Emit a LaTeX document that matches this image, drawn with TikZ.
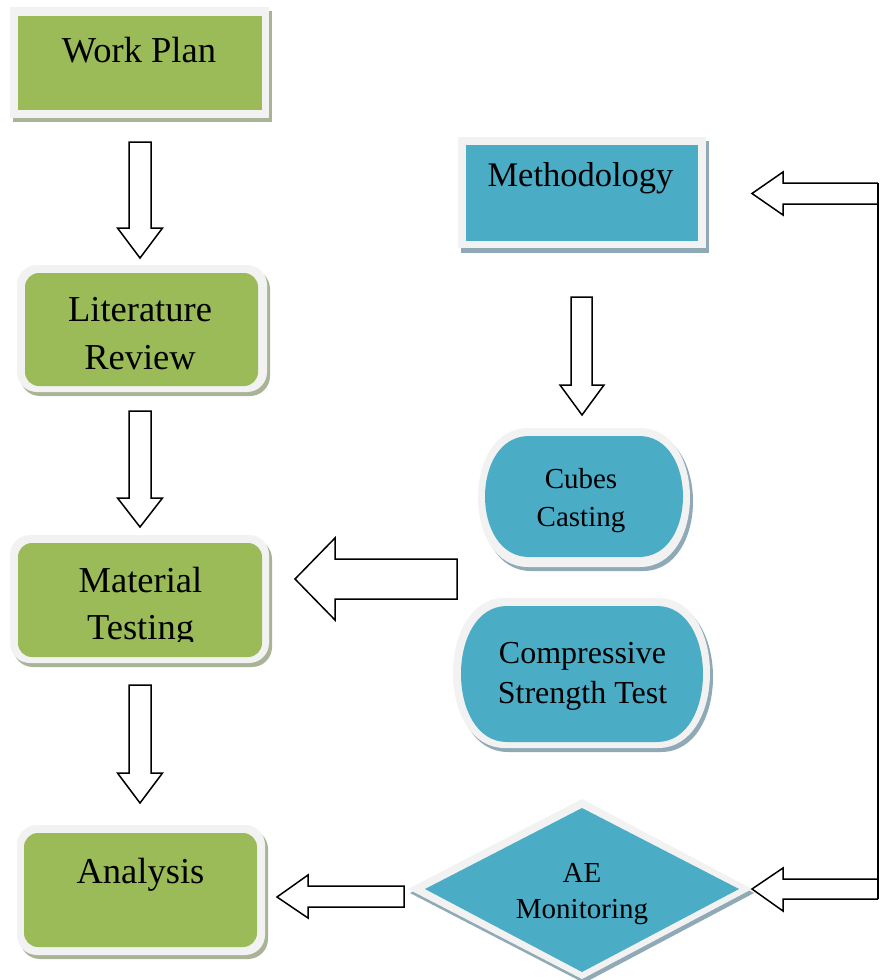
\documentclass[tikz,border=0pt]{standalone}
\usepackage{fontspec}
\setmainfont{Liberation Serif}
\definecolor{olivegrn}{HTML}{9BBB59}
\definecolor{aqua}{HTML}{4BACC6}
\definecolor{framegray}{HTML}{F2F2F2}
\definecolor{shgrn}{HTML}{A9B497}
\definecolor{shaqua}{HTML}{8FAAB6}
% capsule: style, x1, y1, x2, y2, rx
\newcommand{\capfill}[6]{\fill[#1] ({#2+#6},#3) -- ({#4-#6},#3) .. controls ({#4+#6/3},#3) and ({#4+#6/3},#5) .. ({#4-#6},#5) -- ({#2+#6},#5) .. controls ({#2-#6/3},#5) and ({#2-#6/3},#3) .. ({#2+#6},#3) -- cycle;}
\tikzset{
  lbl/.style={inner sep=0pt, anchor=base, text=black},
  big/.style={font=\fontsize{36.5}{40}\selectfont},
  mid/.style={font=\fontsize{32}{36}\selectfont},
  small/.style={font=\fontsize{29}{33}\selectfont},
  blockarrow/.style={draw=black, fill=white, line width=1.5pt, line join=miter},
}
\begin{document}
\begin{tikzpicture}[x=1pt,y=-1pt]
\useasboundingbox (0,0) rectangle (879,980);
\fill[white] (0,0) rectangle (879,980);

% ---- Work Plan (square box)
\fill[shgrn] (13,11) rectangle (272,122);
\fill[framegray] (10,7) rectangle (269,118);
\fill[olivegrn] (18,16) rectangle (262,110);
\node[lbl,big] (wp) at (139,62) {Work Plan};

% ---- Methodology (square box)
\fill[shaqua] (461,141) rectangle (709,253);
\fill[framegray] (458,137) rectangle (706,248);
\fill[aqua] (466,145) rectangle (698,241);
\node[lbl,big,font=\fontsize{34.5}{38}\selectfont] (meth) at (580.5,186) {Methodology};

% ---- Literature Review
\fill[shgrn, rounded corners=20pt] (20,269) rectangle (270,396);
\fill[framegray, rounded corners=20pt] (17,265) rectangle (267,392);
\fill[olivegrn, rounded corners=14pt] (25,273) rectangle (258,386);
\node[lbl,big] (lit1) at (140,321) {Literature};
\node[lbl,big] (lit2) at (140,369) {Review};

% ---- Material Testing
\fill[shgrn, rounded corners=20pt] (13,539) rectangle (272,667);
\fill[framegray, rounded corners=20pt] (10,535) rectangle (269,663);
\fill[olivegrn, rounded corners=14pt] (18,543) rectangle (262,657);
\node[lbl,big] (mat1) at (140.5,592) {Material};
\begin{scope}
\clip (0,600) rectangle (300,641);
\node[lbl,big] (mat2) at (140.5,639) {Testing};
\end{scope}

% ---- Analysis
\fill[shgrn, rounded corners=20pt] (20,829) rectangle (268,959);
\fill[framegray, rounded corners=20pt] (17,825) rectangle (265,955);
\fill[olivegrn, rounded corners=14pt] (24,833) rectangle (257,947);
\node[lbl,big] (ana) at (140.5,883) {Analysis};

% ---- Cubes Casting (capsule)
\capfill{shaqua}{481}{432}{693}{571}{50}
\capfill{framegray}{478}{428}{690}{567}{50}
\capfill{aqua}{485}{436}{683}{557}{44}
\node[lbl,small] (cub1) at (581,488) {Cubes};
\node[lbl,small] (cub2) at (581,526) {Casting};

% ---- Compressive Strength Test (capsule)
\capfill{shaqua}{456}{602}{713}{752}{52}
\capfill{framegray}{453}{598}{710}{748}{52}
\capfill{aqua}{461}{606}{703}{742}{46}
\node[lbl,mid] (cst1) at (582.5,663) {Compressive};
\node[lbl,mid] (cst2) at (582.5,703) {Strength Test};

% ---- AE Monitoring (diamond)
\fill[shaqua] (584,803) -- (754,893) -- (584,983) -- (410,893) -- cycle;
\fill[framegray] (582,799) -- (752,889) -- (582,979) -- (408,889) -- cycle;
\fill[aqua] (582,808) -- (739,889) -- (582,972) -- (425,889) -- cycle;
\node[lbl,small] (ae1) at (582,882) {AE};
\node[lbl,small] (ae2) at (582,918) {Monitoring};

% ---- block arrows (down)
\draw[blockarrow] (129,142) -- (151,142) -- (151,228) -- (162.5,228) -- (140,258) -- (117.5,228) -- (129,228) -- cycle;
\draw[blockarrow] (129,411) -- (151,411) -- (151,498) -- (162.5,498) -- (140,527) -- (117.5,498) -- (129,498) -- cycle;
\draw[blockarrow] (129,685) -- (151,685) -- (151,773) -- (162.5,773) -- (140,803) -- (117.5,773) -- (129,773) -- cycle;
\draw[blockarrow] (571,297) -- (592,297) -- (592,385) -- (604,385) -- (582,415) -- (560,385) -- (571,385) -- cycle;

% ---- block arrows (left)
\draw[blockarrow] (457,559) -- (335,559) -- (335,538) -- (295,579) -- (335,620) -- (335,599) -- (457,599) -- cycle;
\draw[blockarrow] (404,886) -- (308,886) -- (308,875) -- (277,897) -- (308,918) -- (308,907) -- (404,907) -- cycle;
\draw[blockarrow] (878,183) -- (783,183) -- (783,172) -- (752,193.5) -- (783,215) -- (783,204) -- (878,204);
\draw[blockarrow] (878,879) -- (783,879) -- (783,868) -- (752,889) -- (783,911) -- (783,899) -- (878,899);
\coordinate (rtop) at (878,183);
\coordinate (rbot) at (878,899);
\draw[line width=1.5pt] (rtop) -- (rbot);
\end{tikzpicture}
\end{document}
